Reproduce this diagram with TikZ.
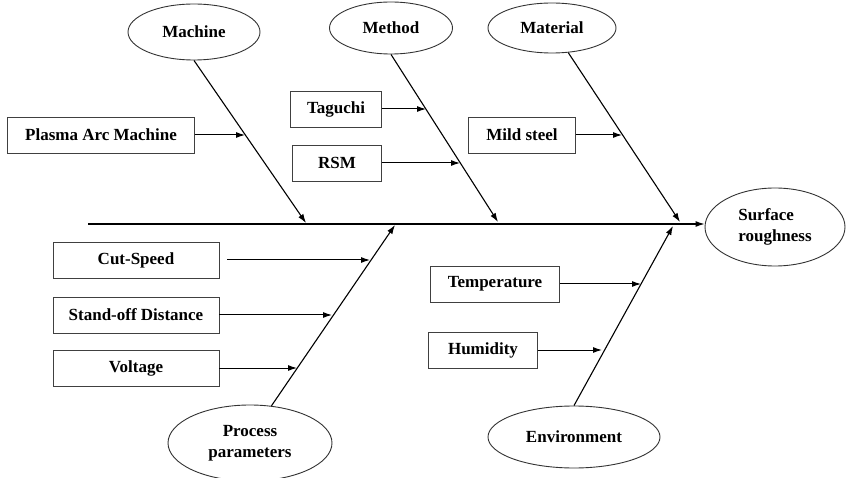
\documentclass[tikz,border=0pt]{standalone}
\usepackage{fontspec}
\setmainfont{Liberation Serif}
\usetikzlibrary{arrows.meta,shapes.geometric}
\tikzset{
  >={Latex[length=9pt,width=6pt]},
  cause/.style={ellipse,draw=black!80,line width=0.9pt,inner sep=0pt,
    font=\fontsize{17}{21}\selectfont\bfseries,align=center},
  sub/.style={draw=black!75,line width=0.9pt,minimum height=36pt,inner sep=0pt,
    font=\fontsize{17}{21}\selectfont\bfseries},
  bone/.style={->,line width=1.1pt},
  twig/.style={->,line width=1pt},
}

\begin{document}
\begin{tikzpicture}[x=1pt,y=-1pt]
  \useasboundingbox (0,0) rectangle (846,478);
  % effect and main causes
  \node[cause,minimum width=140pt,minimum height=78pt,align=left] (sr) at (775,227) {Surface\\roughness};
  \node[cause,minimum width=132pt,minimum height=56pt] (mach) at (194,32) {Machine};
  \node[cause,minimum width=123pt,minimum height=52pt] (meth) at (391,28) {Method};
  \node[cause,minimum width=128pt,minimum height=50pt] (mat) at (552,28) {Material};
  \node[cause,minimum width=164pt,minimum height=76pt] (proc) at (250,443) {Process\\parameters};
  \node[cause,minimum width=172pt,minimum height=62pt] (env) at (574,437) {Environment};
  % spine
  \coordinate (tail) at (88,224);
  \draw[bone] (tail) -- (tail -| sr.west);
  % bones
  \coordinate (tm) at (306,223);
  \coordinate (tme) at (498,222);
  \coordinate (tma) at (680,222);
  \coordinate (tp) at (395,225);
  \coordinate (te) at (673,226);
  \draw[bone] (mach.south) -- (tm);
  \draw[bone] (meth.south) -- (tme);
  \draw[bone] (mat) -- (tma);
  \draw[bone] (proc.60) -- (tp);
  \draw[bone] (env.north) -- (te);
  % sub-causes
  \foreach \t/\x/\y/\w/\ex/\g [count=\i] in {
    Plasma Arc Machine/101/135/187/245/0,
    Taguchi/336/109/91/426/0,
    RSM/337/163/89/460/0,
    Mild steel/522/135/107/622/0,
    Cut-Speed/136/260/166/370/8,
    Stand-off Distance/136/315/166/332/0,
    Voltage/136/368/166/297/0,
    Temperature/495/284/129/641/0,
    Humidity/483/350/109/602/0}
  {
    \node[sub,minimum width=\w pt] (s\i) at (\x,\y) {\t};
    \coordinate (e\i) at (\ex,\y);
    \draw[twig,shorten <=\g pt] (s\i) -- (e\i);
  }
\end{tikzpicture}
\end{document}
